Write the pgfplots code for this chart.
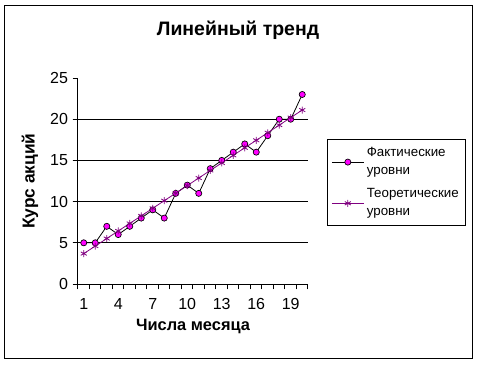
\documentclass[border=0pt]{standalone}
\usepackage{fontspec}
\setmainfont{Liberation Sans}
\usepackage{pgfplots}
\pgfplotsset{compat=1.18}
\definecolor{mag}{RGB}{255,0,255}
\definecolor{purp}{RGB}{128,0,128}
\begin{document}
\begin{tikzpicture}
\path (-58.5pt,-60.75pt) rectangle (300pt,213pt);
\draw[line width=0.75pt] (-54.75pt,-55.5pt) rectangle (295.5pt,209.25pt);
\node[font=\fontsize{14.6}{17}\selectfont\bfseries] at (120pt,190.5pt) {Линейный тренд};
\begin{axis}[
  at={(0,0)}, anchor=south west,
  scale only axis, width=172.5pt, height=154.5pt,
  xmin=0.5, xmax=20.5, ymin=0, ymax=25,
  axis x line*=bottom, axis y line*=left,
  axis line style={-, line width=0.75pt},
  xtick={1,4,7,10,13,16,19},
  major x tick style={draw=none},
  minor xtick={0.5,1.5,...,20.5},
  minor x tick style={black, line width=0.75pt},
  minor tick length=4pt,
  ytick={0,5,...,25},
  major y tick style={black, line width=0.75pt},
  major tick length=4pt,
  tick align=outside,
  extra y ticks={5,10,15,20},
  extra y tick labels={},
  extra y tick style={grid=major, major grid style={black, line width=0.75pt}},
  tick label style={font=\fontsize{12}{14}\selectfont},
  xticklabel style={yshift=-3pt},
  /pgf/number format/assume math mode=true,
  xlabel={Числа месяца},
  ylabel={Курс акций},
  xlabel style={font=\fontsize{12.3}{14}\selectfont\bfseries, at={(axis description cs:0.5,-0.204)}, anchor=center},
  ylabel style={font=\fontsize{13}{15}\selectfont\bfseries, at={(axis description cs:-0.209,0.5)}, anchor=center},
  legend style={at={(1.0826,0.704)}, anchor=north west, draw=black, line width=0.75pt,
    font=\fontsize{10}{13.5}\selectfont, cells={align=left, anchor=west},
    row sep=5pt, inner xsep=3pt, inner ysep=4pt},
  legend image code/.code={\draw[mark repeat=2,mark phase=2] plot coordinates {(0cm,0cm)(0.42cm,0cm)(0.84cm,0cm)};},
  clip=false,
]
\addplot[black, line width=0.6pt, mark=*, mark size=2.3pt, mark options={fill=mag, draw=black, line width=0.5pt}]
coordinates {(1,5)(2,5)(3,7)(4,6)(5,7)(6,8)(7,9)(8,8)(9,11)(10,12)(11,11)(12,14)(13,15)(14,16)(15,17)(16,16)(17,18)(18,20)(19,20)(20,23)};
\addlegendentry{Фактические\\уровни}
\addplot[purp, line width=0.6pt, mark=asterisk, mark size=2.6pt, mark options={purp, line width=0.6pt}]
coordinates {(1,3.69)(2,4.60)(3,5.52)(4,6.44)(5,7.35)(6,8.27)(7,9.19)(8,10.11)(9,11.02)(10,11.94)(11,12.86)(12,13.78)(13,14.69)(14,15.61)(15,16.53)(16,17.44)(17,18.36)(18,19.28)(19,20.20)(20,21.11)};
\addlegendentry{Теоретические\\уровни}
\end{axis}
\end{tikzpicture}
\end{document}
